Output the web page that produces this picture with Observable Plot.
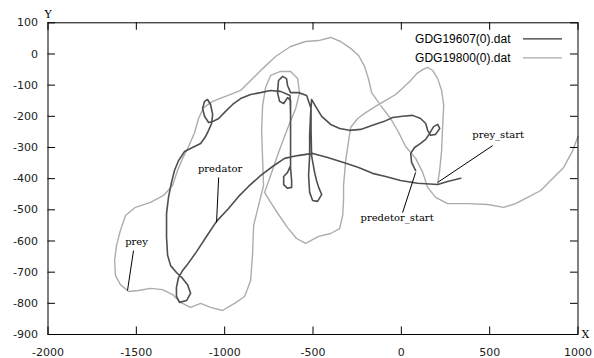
<!DOCTYPE html>
<html><head><meta charset="utf-8">
<script src="https://cdn.jsdelivr.net/npm/d3@7"></script>
<script src="https://cdn.jsdelivr.net/npm/@observablehq/plot@0.6"></script>
<style>body{margin:0;background:#fff} svg{display:block}</style>
</head><body><div id="chart"></div>
<script>
// predator track (GDG19607(0).dat)
const predX = [81,58,53,75,109,138,160,183,206,217,
194,166,149,138,109,64,7,-49,-100,-163,
-230,-293,-349,-400,-451,-485,-508,-514,-519,-519,
-525,-519,-502,-474,-451,-468,-480,-491,-508,-511,
-511,-536,-582,-627,-644,-650,-672,-695,-701,-689,
-666,-644,-627,-627,-627,-627,-621,-621,-644,-666,
-666,-644,-627,-627,-627,-630,-684,-740,-797,-853,
-910,-955,-995,-1034,-1068,-1091,-1114,-1125,-1114,-1097,
-1080,-1068,-1074,-1091,-1108,-1136,-1182,-1227,-1261,-1284,
-1301,-1318,-1329,-1329,-1323,-1306,-1273,-1238,-1210,-1193,
-1216,-1255,-1273,-1273,-1261,-1238,-1210,-1159,-1102,-1046,
-978,-921,-865,-797,-729,-661,-587,-502,-417,-327,
-242,-163,-89,-4,92,206,262,336];
const predY = [-374,-348,-319,-300,-287,-274,-255,-233,-226,-239,
-258,-261,-245,-223,-207,-197,-200,-204,-217,-229,
-242,-245,-239,-226,-200,-168,-146,-197,-261,-326,
-390,-444,-470,-473,-451,-428,-406,-380,-326,-245,
-175,-133,-124,-124,-101,-79,-72,-85,-124,-152,
-159,-140,-149,-213,-294,-367,-406,-428,-431,-419,
-393,-380,-358,-277,-197,-133,-120,-117,-124,-130,
-143,-162,-184,-207,-217,-220,-200,-175,-152,-146,
-162,-194,-223,-245,-265,-287,-300,-313,-342,-374,
-412,-460,-512,-589,-646,-679,-701,-720,-740,-768,
-791,-797,-778,-749,-717,-695,-675,-634,-585,-537,
-496,-457,-425,-390,-361,-335,-326,-319,-332,-348,
-364,-383,-393,-406,-415,-419,-409,-399];

// prey track (GDG19800(0).dat)
const preyX = [206,217,228,234,240,228,206,177,149,121,
87,53,13,-32,-89,-146,-202,-247,-287,-298,
-315,-327,-327,-332,-349,-400,-468,-542,-593,-644,
-695,-740,-774,-740,-695,-644,-598,-576,-587,-627,
-684,-740,-768,-785,-791,-785,-780,-808,-836,-842,
-853,-887,-944,-1012,-1080,-1136,-1193,-1250,-1295,-1352,
-1420,-1488,-1544,-1590,-1618,-1623,-1612,-1590,-1561,-1505,
-1420,-1346,-1295,-1267,-1238,-1204,-1170,-1148,-1119,-1068,
-995,-910,-853,-785,-712,-627,-542,-468,-400,-344,
-287,-242,-208,-185,-168,-117,-61,-15,24,81,
121,149,194,262,375,489,579,647,715,789,
862,919,970,1000];
const preyY = [-415,-374,-310,-229,-165,-117,-79,-53,-43,-50,
-63,-85,-107,-130,-149,-168,-188,-207,-236,-277,
-342,-422,-470,-518,-560,-576,-585,-608,-592,-557,
-515,-476,-444,-390,-316,-239,-175,-124,-79,-56,
-56,-69,-107,-165,-245,-342,-422,-486,-550,-640,
-727,-778,-800,-823,-813,-800,-813,-797,-772,-756,
-752,-759,-762,-740,-711,-662,-614,-566,-518,-492,
-476,-454,-422,-374,-335,-297,-252,-207,-172,-152,
-136,-117,-85,-47,-8,24,40,43,53,40,
18,-5,-40,-82,-124,-165,-207,-252,-297,-335,
-380,-428,-460,-480,-480,-483,-492,-480,-460,-438,
-396,-364,-310,-265];

const xTicks = [-2000,-1500,-1000,-500,0,500,1000];
const yTicks = [-900,-800,-700,-600,-500,-400,-300,-200,-100,0,100];
const seriesNames = ["GDG19607(0).dat","GDG19800(0).dat"];
const seriesColors = ["#4f4f4f","#acacac"];

const annoText = ["predator","prey","prey_start","predetor_start"];
const annoX = [-1026,-1499,548,-24];
const annoY = [-367,-602,-258,-527];
const ptrX1 = [-1034,-1516,517,7];
const ptrY1 = [-396,-631,-294,-509];
const ptrX2 = [-1046,-1550,206,81];
const ptrY2 = [-541,-759,-412,-380];

const W = 594, H = 358, mL = 47.5, mR = 16.5, mT = 22.3, mB = 24;
const fW = W - mL - mR, fH = H - mT - mB, tk = 7.5;

const pred = predX.map((x, i) => ({x, y: predY[i]}));
const prey = preyX.map((x, i) => ({x, y: preyY[i]}));
const annos = annoText.map((t, i) => ({t, x: annoX[i], y: annoY[i]}));
const ptrs = ptrX1.map((x1, i) => ({x1, y1: ptrY1[i], x2: ptrX2[i], y2: ptrY2[i]}));
const serif = "DejaVu Serif";

const chart = Plot.plot({
  width: W, height: H,
  marginLeft: mL, marginRight: mR, marginTop: mT, marginBottom: mB,
  style: {fontFamily: "DejaVu Sans", fontSize: "11px", color: "#222", background: "#fff"},
  x: {domain: [-2000, 1000]},
  y: {domain: [-900, 100]},
  marks: [
    Plot.line(prey, {x: "x", y: "y", stroke: seriesColors[1], strokeWidth: 1.4}),
    Plot.line(pred, {x: "x", y: "y", stroke: seriesColors[0], strokeWidth: 1.6}),
    Plot.link(ptrs, {x1: "x1", y1: "y1", x2: "x2", y2: "y2", stroke: "#000", strokeWidth: 1}),
    Plot.text(annos, {x: "x", y: "y", text: "t", fontFamily: serif, fontSize: 10, fill: "#000"}),
    Plot.frame({stroke: "#000"}),
    Plot.tickX(xTicks, {x: d => d, insetTop: fH - tk, stroke: "#000"}),
    Plot.tickX(xTicks, {x: d => d, insetBottom: fH - tk, stroke: "#000"}),
    Plot.tickY(yTicks, {y: d => d, insetRight: fW - tk, stroke: "#000"}),
    Plot.tickY(yTicks, {y: d => d, insetLeft: fW - tk, stroke: "#000"}),
    Plot.axisX(xTicks, {tickSize: 0, tickPadding: 14, tickFormat: d => String(d), label: null}),
    Plot.axisY(yTicks, {tickSize: 0, tickPadding: 10, tickFormat: d => String(d), label: null}),
    Plot.text(["Y"], {frameAnchor: "top-left", dy: -8.5, textAnchor: "middle", lineAnchor: "middle", fontFamily: serif, fontSize: 11, fill: "#000"}),
    Plot.text(["X"], {frameAnchor: "bottom-right", dx: 7.5, textAnchor: "middle", lineAnchor: "middle", fontFamily: serif, fontSize: 11, fill: "#000"}),
    Plot.text([seriesNames[0]], {frameAnchor: "top-right", dx: -67.5, dy: 16, textAnchor: "end", lineAnchor: "middle", fontFamily: "Liberation Sans", fontSize: 12, fill: "#000"}),
    Plot.text([seriesNames[1]], {frameAnchor: "top-right", dx: -67.5, dy: 35, textAnchor: "end", lineAnchor: "middle", fontFamily: "Liberation Sans", fontSize: 12, fill: "#000"}),
    Plot.ruleY([d3.max(yTicks)], {dy: 16, insetLeft: fW - 54.5, insetRight: 15.5, stroke: "#333", strokeWidth: 1.2}),
    Plot.ruleY([d3.max(yTicks)], {dy: 35, insetLeft: fW - 54.5, insetRight: 15.5, stroke: "#aaa", strokeWidth: 1.2})
  ]
});
document.getElementById("chart").appendChild(chart);
</script>
</body></html>
